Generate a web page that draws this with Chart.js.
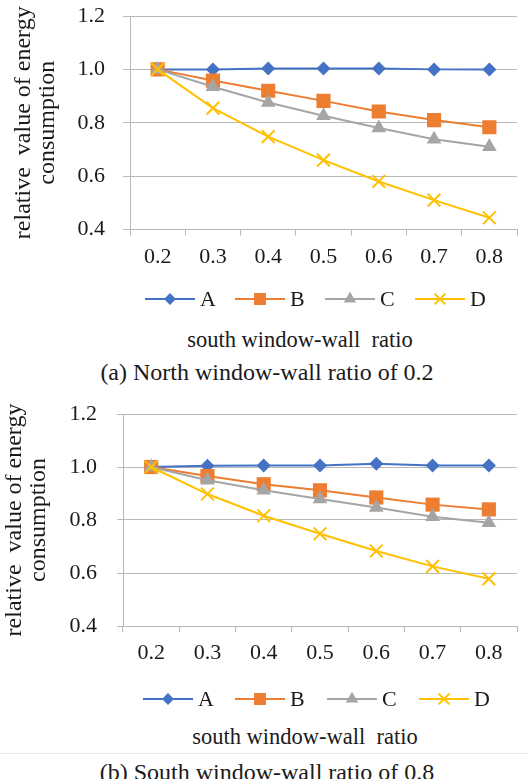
<!DOCTYPE html>
<html>
<head>
<meta charset="utf-8">
<script src="https://cdn.jsdelivr.net/npm/chart.js@4.4.1/dist/chart.umd.min.js"></script>
<style>
  html, body { margin: 0; padding: 0; background: #fff; }
  #page { position: relative; width: 528px; height: 779px; overflow: hidden; font-family: "Liberation Serif", "Times New Roman", serif; color: #1a1a1a; }
  .box { position: absolute; left: 0; width: 528px; }
  .txt { position: absolute; white-space: pre; transform: translate(-50%, -50%); }
  .xtitle { font-size: 22.5px; }
  .caption { font-size: 24px; }
  .sep { position: absolute; left: 0; width: 528px; height: 1px; background: #ececec; }
</style>
</head>
<body>
<div id="page">
  <div class="box" style="top:0; height:320px;"><canvas id="northChart"></canvas></div>
  <div class="txt xtitle" style="left:300px; top:340px;">south window-wall  ratio</div>
  <div class="txt caption" style="left:267px; top:372px;">(a) North window-wall ratio of 0.2</div>

  <div class="box" style="top:392px; height:330px;"><canvas id="southChart"></canvas></div>
  <div class="txt xtitle" style="left:305px; top:737px;">south window-wall  ratio</div>
  <div class="sep" style="top:753px;"></div>
  <div class="txt caption" style="left:267px; top:772px;">(b) South window-wall ratio of 0.8</div>
</div>

<script>
// south window-wall ratio (x categories)
const categories = ['0.2', '0.3', '0.4', '0.5', '0.6', '0.7', '0.8'];
const seriesNames = ['A', 'B', 'C', 'D'];

// (a) north window-wall ratio 0.2
const northA = [1.000, 1.000, 1.003, 1.003, 1.003, 1.000, 1.000];
const northB = [1.000, 0.958, 0.920, 0.882, 0.842, 0.810, 0.783];
const northC = [1.000, 0.935, 0.876, 0.826, 0.780, 0.738, 0.710];
const northD = [1.000, 0.855, 0.748, 0.660, 0.580, 0.510, 0.444];

// (b) south window-wall ratio 0.8
const southA = [1.000, 1.005, 1.006, 1.006, 1.012, 1.006, 1.006];
const southB = [1.000, 0.966, 0.935, 0.912, 0.885, 0.858, 0.840];
const southC = [1.000, 0.950, 0.912, 0.879, 0.847, 0.812, 0.790];
const southD = [1.000, 0.898, 0.816, 0.748, 0.683, 0.625, 0.578];

const yTicks = [0.4, 0.6, 0.8, 1.0, 1.2];

const colors = ['#4472C4', '#ED7D31', '#A5A5A5', '#FFC000'];
const markers = ['rectRot', 'rect', 'triangle', 'crossRot'];
const markerRadius = [7, 10, 8.5, 9];
const serif = '"Liberation Serif", "Times New Roman", serif';
const textColor = '#1a1a1a';
const gridColor = '#b8b8b8';

function drawMarker(ctx, style, x, y, r, color) {
  ctx.fillStyle = color;
  ctx.strokeStyle = color;
  ctx.beginPath();
  if (style === 'rectRot') {
    ctx.moveTo(x, y - r); ctx.lineTo(x + r, y); ctx.lineTo(x, y + r); ctx.lineTo(x - r, y);
    ctx.closePath(); ctx.fill();
  } else if (style === 'rect') {
    const s = r * Math.SQRT1_2;
    ctx.rect(x - s, y - s, 2 * s, 2 * s); ctx.fill();
  } else if (style === 'triangle') {
    ctx.moveTo(x, y - r);
    ctx.lineTo(x + r * 0.866, y + r * 0.5);
    ctx.lineTo(x - r * 0.866, y + r * 0.5);
    ctx.closePath(); ctx.fill();
  } else {
    const s = r * Math.SQRT1_2;
    ctx.lineWidth = 2;
    ctx.moveTo(x - s, y - s); ctx.lineTo(x + s, y + s);
    ctx.moveTo(x + s, y - s); ctx.lineTo(x - s, y + s);
    ctx.stroke();
  }
}

// legend in the Excel style: short line with the marker on it, then the name
const lineLegend = {
  id: 'lineLegend',
  afterDraw(chart, args, opts) {
    const ctx = chart.ctx;
    const area = chart.chartArea;
    const y = area.bottom + opts.offsetY;
    ctx.save();
    chart.data.datasets.forEach((ds, i) => {
      const x0 = area.left + opts.start + i * opts.step;
      ctx.strokeStyle = colors[i];
      ctx.lineWidth = 2;
      ctx.beginPath(); ctx.moveTo(x0, y); ctx.lineTo(x0 + 50, y); ctx.stroke();
      drawMarker(ctx, markers[i], x0 + 25, y, markerRadius[i] * 0.85, colors[i]);
      ctx.fillStyle = textColor;
      ctx.font = '22px ' + serif;
      ctx.textBaseline = 'middle';
      ctx.textAlign = 'left';
      ctx.fillText(ds.label, x0 + 55, y + 1);
    });
    ctx.restore();
  }
};

function createLineChart(canvasId, series, opts) {
  const datasets = series.map((values, i) => ({
    label: seriesNames[i],
    data: values,
    borderColor: colors[i],
    backgroundColor: colors[i],
    borderWidth: 2,
    pointStyle: markers[i],
    pointRadius: markerRadius[i],
    pointBorderWidth: markers[i] === 'crossRot' ? 2 : 0,
    pointBorderColor: colors[i],
    tension: 0,
    order: series.length - i
  }));

  const ctx = document.getElementById(canvasId).getContext('2d');
  return new Chart(ctx, {
    type: 'line',
    data: { labels: categories, datasets: datasets },
    plugins: [lineLegend],
    options: {
      responsive: true,
      maintainAspectRatio: false,
      animation: false,
      layout: { padding: { left: 0, right: 0, top: opts.top, bottom: opts.bottom } },
      plugins: {
        tooltip: { enabled: false },
        legend: { display: false },
        lineLegend: { offsetY: opts.legendY, start: opts.legendStart, step: opts.legendStep }
      },
      scales: {
        x: {
          type: 'category',
          offset: true,
          afterFit: function (scale) { scale.height = 45; },
          grid: { offset: true, drawOnChartArea: false, drawTicks: true, tickLength: 6, color: gridColor },
          border: { color: gridColor, width: 1 },
          ticks: { color: textColor, font: { family: serif, size: 22 }, padding: opts.xPad, maxRotation: 0 }
        },
        y: {
          min: 0.4,
          max: 1.2,
          afterBuildTicks: function (scale) {
            scale.ticks = yTicks.map(v => ({ value: v }));
          },
          afterFit: function (scale) {
            // fixed axis width; the plot top is set by layout padding alone
            scale.width = opts.left;
            scale.paddingTop = 0;
            scale.paddingBottom = 0;
          },
          grid: { color: gridColor, tickLength: opts.yTick },
          border: { color: gridColor, width: 1 },
          ticks: {
            color: textColor,
            font: { family: serif, size: 22 },
            padding: opts.yPad,
            callback: function (v) { return Number(v).toFixed(1); }
          },
          title: {
            display: true,
            text: ['relative  value of energy', 'consumption'],
            color: textColor,
            font: { family: serif, size: 24, lineHeight: 1.0 },
            padding: { top: opts.titlePad, bottom: 0 }
          }
        }
      }
    }
  });
}

document.addEventListener('DOMContentLoaded', function () {
  createLineChart('northChart', [northA, northB, northC, northD], {
    top: 16, bottom: 45.5, left: 130, xPad: 9, yPad: 18, yTick: 7, titlePad: 12,
    legendY: 69.5, legendStart: 15, legendStep: 90
  });
  createLineChart('southChart', [southA, southB, southC, southD], {
    top: 22, bottom: 51, left: 123, xPad: 8, yPad: 20, yTick: 6, titlePad: 3,
    legendY: 73, legendStart: 20, legendStep: 92
  });
});
</script>
</body>
</html>
